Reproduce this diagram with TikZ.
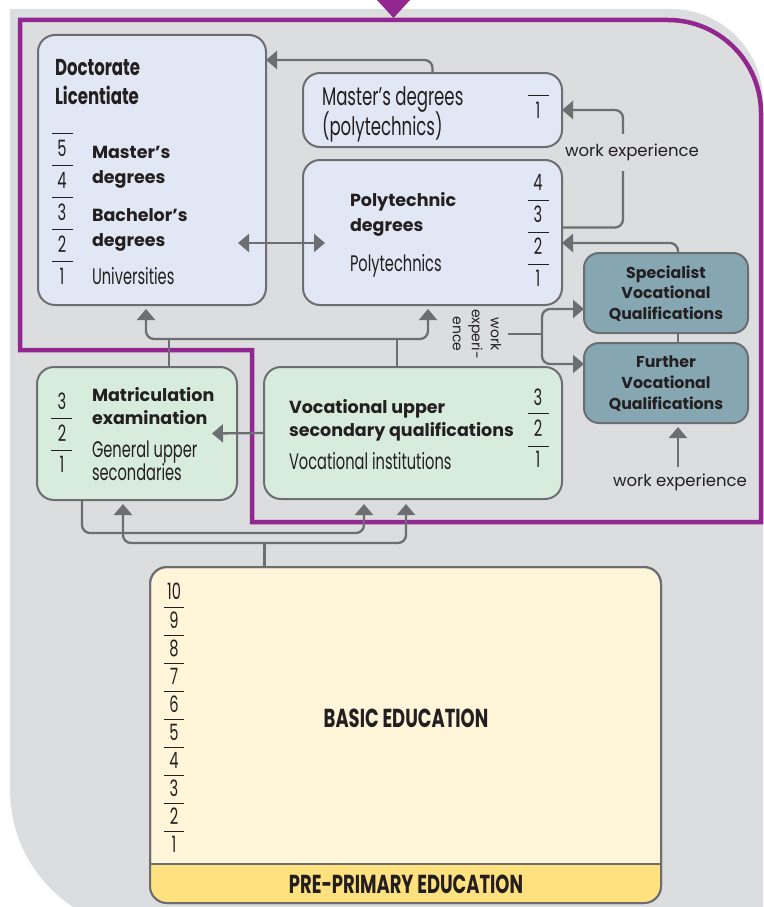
\documentclass[tikz,border=0pt]{standalone}
\usepackage{fontspec}
\setmainfont{Poppins}
\newfontfamily\condf[FakeStretch=0.65]{Poppins}
\newfontfamily\condb[FakeStretch=0.72]{Poppins}
\newfontfamily\condbb[FakeStretch=0.69]{Poppins}
\usetikzlibrary{arrows.meta}
\definecolor{bgc}{HTML}{DCDDDF}
\definecolor{purp}{HTML}{92278F}
\definecolor{edge}{HTML}{6D6E71}
\definecolor{blu}{HTML}{E1E7F4}
\definecolor{grn}{HTML}{D8ECDE}
\definecolor{tealb}{HTML}{86A7B2}
\definecolor{cream}{HTML}{FFF5D8}
\definecolor{bandc}{HTML}{FFE27F}
\definecolor{ink}{HTML}{231F20}
\newcommand\myCB{\condb\bfseries\fontsize{23}{27}\selectfont}
\newcommand\myCR{\condf\fontsize{22.5}{27}\selectfont}
\newcommand\myMP{\condf\fontsize{25.5}{30}\selectfont}
\newcommand\myB{\bfseries\fontsize{17.5}{22}\selectfont}
\newcommand\myBs{\bfseries\fontsize{15.8}{20}\selectfont}
\newcommand\myR{\fontsize{16.5}{20}\selectfont}
\newcommand\myBig{\condbb\bfseries\fontsize{26}{30}\selectfont}
\def\oCB{8}
\def\oCR{7.9}
\def\oMP{8.9}
\def\oB{6.1}
\def\oBs{5.5}
\def\oBig{9.1}
\begin{document}
\begin{tikzpicture}[x=1pt,y=-1pt,
  every node/.style={inner sep=0pt, outer sep=0pt, text=ink},
  box/.style={draw=edge, line width=2pt, rounded corners=17pt, anchor=north west},
  ln/.style={draw=edge, line width=2.3pt, rounded corners=8pt},
  arr/.style={ln, -{Triangle[width=18pt,length=11pt]}},
  darr/.style={ln, {Triangle[width=18pt,length=11pt]}-{Triangle[width=18pt,length=11pt]}},
  rl/.style={draw=ink, line width=1pt},
  tx/.style={anchor=base west},
  txc/.style={anchor=base},
  numf/.style={anchor=base, font=\myCR}]
\useasboundingbox (0,0) rectangle (763,907);
% background
\fill[bgc] (10,9) -- (671,9) arc[start angle=-90,end angle=0,radius=92] -- (763,930) -- (150,930) arc[start angle=90,end angle=180,radius=140] -- cycle;
% purple frame
\draw[purp, line width=4.5pt] (20,20) -- (668,20) arc[start angle=-90,end angle=0,radius=93] -- (761,522) -- (252,522) -- (252,350) -- (20,350) -- cycle;
\fill[purp] (377,0) -- (410,0) -- (393.5,18) -- cycle;

% boxes
\node[box, fill=blu, minimum width=228pt, minimum height=270pt] (uni) at (38,35) {};
\node[box, fill=blu, minimum width=259pt, minimum height=74pt] (mp) at (303,73) {};
\node[box, fill=blu, minimum width=259pt, minimum height=145pt] (poly) at (303,160) {};
\node[box, fill=tealb, rounded corners=15pt, minimum width=164pt, minimum height=80pt] (spec) at (584,253) {};
\node[box, fill=tealb, rounded corners=15pt, minimum width=164pt, minimum height=80pt] (furt) at (584,343) {};
\node[box, fill=grn, minimum width=200pt, minimum height=133pt] (mat) at (37,367) {};
\node[box, fill=grn, minimum width=298pt, minimum height=132pt] (voc) at (264,367) {};
\node[box, fill=cream, minimum width=511pt, minimum height=336pt] (basic) at (150,567) {};
\begin{scope}
\clip[rounded corners=17pt] (basic.north west) rectangle (basic.south east);
\fill[bandc] (150,864) rectangle (662,905);
\end{scope}
\draw[edge, line width=2pt] (150,864) -- (661,864);
\draw[edge, line width=2pt, rounded corners=17pt] (basic.north west) rectangle (basic.south east);

% university texts
\node[tx, font=\myCB] (tdoc) at (55,67+\oCB) {Doctorate};
\node[tx, font=\myCB] (tlic) at (55,96+\oCB) {Licentiate};
\node[tx, font=\myB] (tma1) at (92,152+\oB) {Master’s};
\node[tx, font=\myB] (tma2) at (92,177+\oB) {degrees};
\node[tx, font=\myB] (tba1) at (92,215+\oB) {Bachelor’s};
\node[tx, font=\myB] (tba2) at (92,240+\oB) {degrees};
\node[tx, font=\myCR] (tuni) at (92,277+\oCR) {Universities};
\foreach \n [count=\i from 0] in {5,4,3,2,1} \node[numf] (un\n) at (62,149+32*\i+\oCR) {\n};
\foreach \yy in {133,165,197,229,261} \draw[rl] (52,\yy) -- (73,\yy);

% master's polytechnics
\node[tx, font=\myMP] (tmp1) at (322,97+\oMP) {Master’s degrees};
\node[tx, font=\myMP] (tmp2) at (322,127+\oMP) {(polytechnics)};
\node[numf] (mpn1) at (538,111+\oCR) {1};
\draw[rl] (528,95) -- (549,95);

% polytechnic
\node[tx, font=\myB] (tpo1) at (350,200+\oB) {Polytechnic};
\node[tx, font=\myB] (tpo2) at (350,225+\oB) {degrees};
\node[tx, font=\myCR] (tpo3) at (350,264+\oCR) {Polytechnics};
\foreach \n [count=\i from 0] in {4,3,2,1} \node[numf] (pn\n) at (538,183+32*\i+\oCR) {\n};
\foreach \yy in {200,232,264} \draw[rl] (528,\yy) -- (549,\yy);

% vocational qualifications
\node[txc, font=\myBs] (ts1) at (666,273+\oBs) {Specialist};
\node[txc, font=\myBs] (ts2) at (666,293+\oBs) {Vocational};
\node[txc, font=\myBs] (ts3) at (666,314+\oBs) {Qualifications};
\node[txc, font=\myBs] (tf1) at (666,362+\oBs) {Further};
\node[txc, font=\myBs] (tf2) at (666,383+\oBs) {Vocational};
\node[txc, font=\myBs] (tf3) at (666,404+\oBs) {Qualifications};

% matriculation
\node[tx, font=\myB] (tm1) at (92,395+\oB) {Matriculation};
\node[tx, font=\myB] (tm2) at (92,418+\oB) {examination};
\node[tx, font=\myCR] (tm3) at (92,450+\oCR) {General upper};
\node[tx, font=\myCR] (tm4) at (92,473+\oCR) {secondaries};
\foreach \n [count=\i from 0] in {3,2,1} \node[numf] (mn\n) at (62,402+31.5*\i+\oCR) {\n};
\foreach \yy in {418,450} \draw[rl] (51,\yy) -- (72,\yy);

% vocational upper secondary
\node[tx, font=\myB] (tv1) at (289,407+\oB) {Vocational upper};
\node[tx, font=\myB] (tv2) at (289,430+\oB) {secondary qualifications};
\node[tx, font=\myCR] (tv3) at (289,462+\oCR) {Vocational institutions};
\foreach \n [count=\i from 0] in {3,2,1} \node[numf] (vn\n) at (538,398+31*\i+\oCR) {\n};
\foreach \yy in {413,446} \draw[rl] (528,\yy) -- (549,\yy);

% basic education
\foreach \n [count=\i from 0] in {10,9,8,7,6,5,4,3,2,1} \node[numf] (bn\n) at (174,592+28.1*\i+\oCR) {\n};
\foreach \k in {0,...,8} \draw[rl] (164,607+28.1*\k) -- (184,607+28.1*\k);
\node[txc, font=\myBig] (tbasic) at (406,718+\oBig) {BASIC EDUCATION};
\node[txc, font=\myBig] (tpre) at (406,884+\oBig) {PRE-PRIMARY EDUCATION};

% connectors
\draw[arr] (mp.north) |- ([yshift=-25pt]uni.north east);
\coordinate (dl) at (238,243);
\coordinate (dr) at (325,243);
\draw[darr] (dl) -- (dr);
\draw[arr] ([yshift=5pt]poly.east) -- ++(61,0) |- (mp.east);
\node[fill=bgc, minimum height=37pt, font=\myR] (we1) at (632,152) {work experience};
\draw[arr] ([xshift=12pt]spec.north) |- ([yshift=-10.5pt]poly.east);
\draw[ln] ([xshift=12pt]spec.south) -- ([xshift=12pt]furt.north);
\node[rotate=-90, align=center, font=\fontsize{14}{19}\selectfont] (wtxt) at (477,334) {work\\experi-\\ence};
\coordinate (wx) at (508,334);
\coordinate (jn) at (542,334);
\draw[ln] (wx) -- (jn);
\draw[arr] (jn) |- ([yshift=-16pt]spec.west);
\draw[arr] (jn) |- ([yshift=19pt]furt.west);
\node[font=\myR] (we2) at (680,482) {work experience};
\coordinate (wb) at (678,467);
\draw[arr] (wb) -- ([xshift=12pt,yshift=-4pt]furt.south);
% upper bus
\draw[ln] ([xshift=32pt]mat.north) -- ++(0,-28);
\draw[ln] ([xshift=-16pt]voc.north) -- ++(0,-28);
\coordinate (bm) at (287,339);
\draw[darr] ([xshift=-6pt,yshift=-4pt]uni.south) |- (bm) -| ([xshift=-4.5pt,yshift=-4pt]poly.south);
\draw[arr] (voc.west) -- ([xshift=-25pt]mat.east);
% lower bus
\draw[arr] ([xshift=-55pt]mat.south) -- ++(0,33) -| ([xshift=-49pt,yshift=-5pt]voc.south);
\coordinate (br) at (406,543);
\draw[darr] ([xshift=-14pt,yshift=-4pt]mat.south) |- (br) -- ([xshift=-7pt,yshift=-5pt]voc.south);
\draw[ln] ([xshift=-141pt]basic.north) -- ++(0,-24);
\end{tikzpicture}
\end{document}
